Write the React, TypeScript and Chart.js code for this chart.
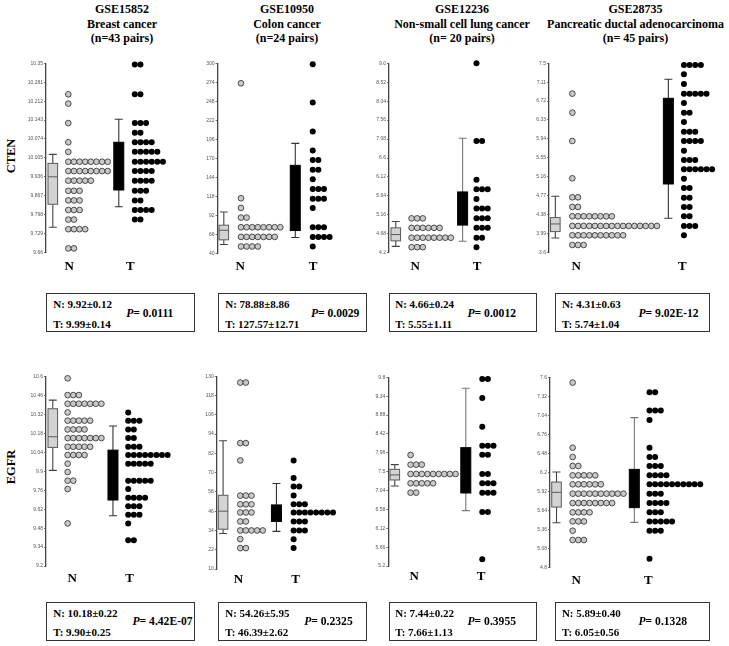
import React, { useEffect, useRef } from "react";
import { Chart, registerables } from "chart.js";

Chart.register(...registerables);

// ================= DATA =================
// Box stats are [lowerWhisker, Q1, median, Q3, upperWhisker]
// Dot rows: value + number of samples stacked at that value

// --- CTEN, GSE15852 Breast cancer ---
const ctenBreastTicks = ["10.35", "10.281", "10.212", "10.143", "10.074", "10.005", "9.936", "9.867", "9.798", "9.729", "9.66"];
const ctenBreastNValues = [10.237, 10.203, 10.132, 10.062, 10.027, 9.991, 9.957, 9.922, 9.885, 9.85, 9.815, 9.78, 9.745, 9.675];
const ctenBreastNCounts = [1, 1, 1, 1, 1, 8, 8, 5, 3, 3, 3, 2, 4, 2];
const ctenBreastTValues = [10.346, 10.237, 10.132, 10.097, 10.062, 10.027, 9.991, 9.957, 9.922, 9.885, 9.85, 9.815, 9.78];
const ctenBreastTCounts = [2, 2, 3, 2, 4, 5, 6, 4, 4, 3, 2, 4, 2];
const ctenBreastNBox = [9.752, 9.836, 9.936, 9.985, 10.018];
const ctenBreastTBox = [9.827, 9.888, 9.97, 10.062, 10.146];
const ctenBreastStats = ["N: 9.92\u00b10.12", "T: 9.99\u00b10.14", "0.0111"];

// --- CTEN, GSE10950 Colon cancer ---
const ctenColonTicks = ["300", "274", "248", "222", "196", "170", "144", "118", "92", "66", "40"];
const ctenColonNValues = [272.7, 115.5, 102.3, 89.1, 75.9, 62.7, 49.6];
const ctenColonNCounts = [1, 1, 1, 2, 8, 7, 4];
const ctenColonTValues = [298.6, 246.4, 206.8, 180.9, 167.7, 154.5, 141.4, 128.2, 115.0, 102.3, 75.9, 62.7, 49.6];
const ctenColonTCounts = [1, 1, 1, 1, 2, 2, 1, 3, 3, 1, 3, 4, 1];
const ctenColonNBox = [52.3, 58.7, 71.8, 78.7, 96.8];
const ctenColonTBox = [61.8, 71.4, 120, 160.5, 190.5];
const ctenColonStats = ["N: 78.88\u00b18.86", "T: 127.57\u00b112.71", "0.0029"];

// --- CTEN, GSE12236 Non-small cell lung cancer ---
const ctenLungTicks = ["9.0", "8.52", "8.04", "7.56", "7.08", "6.6", "6.12", "5.64", "5.16", "4.68", "4.2"];
const ctenLungNValues = [5.07, 4.83, 4.58, 4.34];
const ctenLungNCounts = [3, 6, 8, 3];
const ctenLungTValues = [9.0, 7.03, 6.05, 5.81, 5.56, 5.32, 5.07, 4.83, 4.58, 4.34];
const ctenLungTCounts = [1, 2, 1, 3, 1, 3, 3, 3, 2, 1];
const ctenLungNBox = [4.36, 4.5, 4.66, 4.83, 4.99];
const ctenLungTBox = [4.49, 4.9, 5.3, 5.74, 7.1];
const ctenLungStats = ["N: 4.66\u00b10.24", "T: 5.55\u00b11.11", "0.0012"];

// --- CTEN, GSE28735 Pancreatic ductal adenocarcinoma ---
const ctenPancTicks = ["7.5", "7.11", "6.72", "6.33", "5.94", "5.55", "5.16", "4.77", "4.38", "3.99", "3.6"];
const ctenPancNValues = [6.874, 6.482, 5.897, 5.127, 4.735, 4.536, 4.343, 4.144, 3.951, 3.751];
const ctenPancNCounts = [1, 1, 1, 1, 2, 2, 8, 16, 10, 3];
const ctenPancTValues = [7.466, 7.273, 7.074, 6.874, 6.682, 6.482, 6.29, 6.09, 5.897, 5.698, 5.505, 5.313, 5.12, 4.928, 4.728, 4.536, 4.343, 4.144, 3.951];
const ctenPancTCounts = [4, 1, 1, 5, 1, 2, 1, 3, 4, 1, 3, 6, 1, 2, 2, 2, 2, 3, 1];
const ctenPancNBox = [3.896, 4.027, 4.185, 4.316, 4.756];
const ctenPancTBox = [4.302, 5.01, 5.9, 6.778, 7.17];
const ctenPancStats = ["N: 4.31\u00b10.63", "T: 5.74\u00b11.04", "9.02E-12"];

// --- EGFR, GSE15852 Breast cancer ---
const egfrBreastTicks = ["10.6", "10.46", "10.32", "10.18", "10.04", "9.9", "9.76", "9.62", "9.48", "9.34", "9.2"];
const egfrBreastNValues = [10.588, 10.464, 10.4, 10.336, 10.275, 10.21, 10.146, 10.082, 10.021, 9.957, 9.895, 9.831, 9.769, 9.515];
const egfrBreastNCounts = [1, 3, 7, 1, 5, 4, 7, 5, 4, 1, 1, 2, 1, 1];
const egfrBreastTValues = [10.336, 10.275, 10.21, 10.146, 10.082, 10.021, 9.957, 9.831, 9.769, 9.705, 9.641, 9.579, 9.515, 9.39];
const egfrBreastTCounts = [1, 3, 2, 2, 3, 8, 5, 5, 1, 4, 3, 3, 1, 2];
const egfrBreastNBox = [9.907, 10.077, 10.156, 10.363, 10.427];
const egfrBreastTBox = [9.572, 9.688, 9.9, 10.057, 10.235];
const egfrBreastStats = ["N: 10.18\u00b10.22", "T: 9.90\u00b10.25", "4.42E-07"];

// --- EGFR, GSE10950 Colon cancer ---
const egfrColonTicks = ["130", "118", "106", "94", "82", "70", "58", "46", "34", "22", "10"];
const egfrColonNValues = [126.1, 88.4, 77.6, 55.7, 50.3, 45.2, 39.6, 34.0, 28.6, 23.0];
const egfrColonNCounts = [2, 2, 1, 3, 3, 3, 2, 5, 1, 2];
const egfrColonTValues = [77.6, 66.7, 61.3, 55.7, 50.3, 45.2, 39.6, 34.0, 28.6, 23.0];
const egfrColonTCounts = [1, 1, 2, 1, 3, 8, 3, 3, 1, 1];
const egfrColonNBox = [32.1, 34.8, 46, 55.9, 89.9];
const egfrColonTBox = [33.4, 39.6, 45, 49.9, 63.2];
const egfrColonStats = ["N: 54.26\u00b15.95", "T: 46.39\u00b12.62", "0.2325"];

// --- EGFR, GSE12236 Non-small cell lung cancer ---
const egfrLungTicks = ["9.8", "9.34", "8.88", "8.42", "7.96", "7.5", "7.04", "6.58", "6.12", "5.66", "5.2"];
const egfrLungNValues = [7.906, 7.671, 7.443, 7.216, 6.988];
const egfrLungNCounts = [1, 3, 9, 5, 2];
const egfrLungTValues = [9.76, 9.296, 8.597, 8.134, 7.915, 7.443, 7.216, 6.988, 6.517, 5.363];
const egfrLungTCounts = [2, 1, 1, 3, 2, 2, 3, 3, 2, 1];
const egfrLungNBox = [7.15, 7.297, 7.42, 7.557, 7.671];
const egfrLungTBox = [6.55, 6.98, 7.5, 8.085, 9.532];
const egfrLungStats = ["N: 7.44\u00b10.22", "T: 7.66\u00b11.13", "0.3955"];

// --- EGFR, GSE28735 Pancreatic ductal adenocarcinoma ---
const egfrPancTicks = ["7.6", "7.32", "7.04", "6.76", "6.48", "6.2", "5.92", "5.64", "5.36", "5.08", "4.8"];
const egfrPancNValues = [7.522, 6.565, 6.428, 6.296, 6.158, 6.026, 5.889, 5.751, 5.614, 5.481, 5.344, 5.207];
const egfrPancNCounts = [1, 1, 1, 2, 5, 6, 10, 8, 4, 3, 1, 3];
const egfrPancTValues = [7.379, 7.11, 6.972, 6.565, 6.428, 6.296, 6.158, 6.026, 5.889, 5.751, 5.614, 5.481, 5.344, 4.932];
const egfrPancTCounts = [2, 3, 1, 1, 2, 3, 4, 10, 3, 4, 3, 5, 3, 1];
const egfrPancNBox = [5.462, 5.692, 5.908, 6.06, 6.207];
const egfrPancTBox = [5.467, 5.683, 5.95, 6.246, 7.007];
const egfrPancStats = ["N: 5.89\u00b10.40", "T: 6.05\u00b10.56", "0.1328"];

const columnTitles = [
  ["GSE15852", "Breast cancer", "(n=43 pairs)"],
  ["GSE10950", "Colon cancer", "(n=24 pairs)"],
  ["GSE12236", "Non-small cell lung cancer", "(n= 20 pairs)"],
  ["GSE28735", "Pancreatic ductal adenocarcinoma", "(n= 45 pairs)"],
];
const geneNames = ["CTEN", "EGFR"];
const groupLabels = ["N", "T"];

// ================= LAYOUT (page pixels) =================
const SERIF = '"Liberation Serif", "Times New Roman", Times, serif';
const SANS = '"Liberation Sans", Arial, Helvetica, sans-serif';
const DOT_STEP = 5.8;

const panelLayouts = [
  { axisX: 46, yTop: 63.3, yBottom: 252.5, nBox: 53, nDot0: 69, tBox: 121, tDot0: 137.5, nLabel: 70, tLabel: 133, labelY: 265.7, right: 212, tWhisker: "#333" },
  { axisX: 217.5, yTop: 63.3, yBottom: 253.5, nBox: 224, nDot0: 241.7, tBox: 297.7, tDot0: 315.7, nLabel: 241, tLabel: 316, labelY: 265.7, right: 380, tWhisker: "#333" },
  { axisX: 389, yTop: 63.3, yBottom: 252.7, nBox: 396, nDot0: 412.3, tBox: 465, tDot0: 479.3, nLabel: 416, tLabel: 480, labelY: 265.7, right: 545, tWhisker: "#777" },
  { axisX: 549, yTop: 63.3, yBottom: 252.3, nBox: 555.5, nDot0: 573, tBox: 671.7, tDot0: 687.7, nLabel: 577, tLabel: 686, labelY: 265.7, right: 729, tWhisker: "#333" },
  { axisX: 46, yTop: 376.7, yBottom: 566, nBox: 53, nDot0: 68.3, tBox: 115, tDot0: 130.7, nLabel: 73, tLabel: 132, labelY: 577.5, right: 212, tWhisker: "#333" },
  { axisX: 216.7, yTop: 376.3, yBottom: 569, nBox: 223.3, nDot0: 241, tBox: 278.3, tDot0: 296, nLabel: 239, tLabel: 298, labelY: 579, right: 380, tWhisker: "#333" },
  { axisX: 388.3, yTop: 377.3, yBottom: 566, nBox: 395, nDot0: 411.3, tBox: 468.3, tDot0: 485.3, nLabel: 415, tLabel: 484, labelY: 576, right: 545, tWhisker: "#777" },
  { axisX: 550, yTop: 377.3, yBottom: 567.7, nBox: 556.7, nDot0: 573.3, tBox: 636.7, tDot0: 652.3, nLabel: 577, tLabel: 651, labelY: 580, right: 729, tWhisker: "#777" },
];

const statBoxes = [
  { left: 46, top: 293.3, width: 149, height: 38.5, textX: 8, pX: 81 },
  { left: 217.7, top: 293.3, width: 149.6, height: 38.5, textX: 8.3, pX: 94 },
  { left: 389.3, top: 293.3, width: 147.4, height: 38.5, textX: 6.7, pX: 79 },
  { left: 555, top: 293.3, width: 155, height: 38.5, textX: 7.7, pX: 84.3 },
  { left: 46, top: 601.7, width: 149, height: 39, textX: 8, pX: 87.3 },
  { left: 217.7, top: 601.7, width: 149.6, height: 39, textX: 8.3, pX: 87.3 },
  { left: 389.3, top: 601.7, width: 147.4, height: 39, textX: 6.7, pX: 79 },
  { left: 555, top: 601.7, width: 155, height: 39, textX: 7.7, pX: 84.3 },
];

const titleCenters = [122, 287, 462, 635.5];

const panelData = [
  { ticks: ctenBreastTicks, nV: ctenBreastNValues, nC: ctenBreastNCounts, tV: ctenBreastTValues, tC: ctenBreastTCounts, nBox: ctenBreastNBox, tBox: ctenBreastTBox, stats: ctenBreastStats },
  { ticks: ctenColonTicks, nV: ctenColonNValues, nC: ctenColonNCounts, tV: ctenColonTValues, tC: ctenColonTCounts, nBox: ctenColonNBox, tBox: ctenColonTBox, stats: ctenColonStats },
  { ticks: ctenLungTicks, nV: ctenLungNValues, nC: ctenLungNCounts, tV: ctenLungTValues, tC: ctenLungTCounts, nBox: ctenLungNBox, tBox: ctenLungTBox, stats: ctenLungStats },
  { ticks: ctenPancTicks, nV: ctenPancNValues, nC: ctenPancNCounts, tV: ctenPancTValues, tC: ctenPancTCounts, nBox: ctenPancNBox, tBox: ctenPancTBox, stats: ctenPancStats },
  { ticks: egfrBreastTicks, nV: egfrBreastNValues, nC: egfrBreastNCounts, tV: egfrBreastTValues, tC: egfrBreastTCounts, nBox: egfrBreastNBox, tBox: egfrBreastTBox, stats: egfrBreastStats },
  { ticks: egfrColonTicks, nV: egfrColonNValues, nC: egfrColonNCounts, tV: egfrColonTValues, tC: egfrColonTCounts, nBox: egfrColonNBox, tBox: egfrColonTBox, stats: egfrColonStats },
  { ticks: egfrLungTicks, nV: egfrLungNValues, nC: egfrLungNCounts, tV: egfrLungTValues, tC: egfrLungTCounts, nBox: egfrLungNBox, tBox: egfrLungTBox, stats: egfrLungStats },
  { ticks: egfrPancTicks, nV: egfrPancNValues, nC: egfrPancNCounts, tV: egfrPancTValues, tC: egfrPancTCounts, nBox: egfrPancNBox, tBox: egfrPancTBox, stats: egfrPancStats },
];

function stackRows(values: number[], counts: number[], x0: number) {
  const pts: { x: number; y: number }[] = [];
  values.forEach((v, i) => {
    for (let k = 0; k < counts[i]; k++) pts.push({ x: x0 + k * DOT_STEP, y: v });
  });
  return pts;
}

function drawBox(ctx: CanvasRenderingContext2D, xs: any, ys: any, xv: number, s: number[], style: any) {
  const cx = xs.getPixelForValue(xv);
  const [lo, q1, med, q3, hi] = s.map((v) => ys.getPixelForValue(v));
  const hw = style.halfWidth;
  const cap = 4;
  ctx.save();
  ctx.strokeStyle = style.whisker;
  ctx.lineWidth = 1.1;
  ctx.beginPath();
  ctx.moveTo(cx, q3);
  ctx.lineTo(cx, hi);
  ctx.moveTo(cx - cap, hi);
  ctx.lineTo(cx + cap, hi);
  ctx.moveTo(cx, q1);
  ctx.lineTo(cx, lo);
  ctx.moveTo(cx - cap, lo);
  ctx.lineTo(cx + cap, lo);
  ctx.stroke();
  ctx.fillStyle = style.fill;
  ctx.fillRect(cx - hw, q3, hw * 2, q1 - q3);
  ctx.strokeStyle = style.stroke;
  ctx.lineWidth = 1;
  ctx.strokeRect(cx - hw, q3, hw * 2, q1 - q3);
  if (style.median) {
    ctx.beginPath();
    ctx.moveTo(cx - hw, med);
    ctx.lineTo(cx + hw, med);
    ctx.stroke();
  }
  ctx.restore();
}

function Panel({ idx }: { idx: number }) {
  const ref = useRef<HTMLCanvasElement>(null);
  const lay = panelLayouts[idx];
  const d = panelData[idx];
  const canvasLeft = Math.round(lay.axisX - 44);
  const canvasTop = Math.round(lay.yTop - 13);
  const axisW = lay.axisX - canvasLeft;
  const padTop = lay.yTop - canvasTop;
  const width = lay.right - canvasLeft;
  const height = Math.round(lay.yBottom - canvasTop + 30);

  useEffect(() => {
    const tickVals = d.ticks.map((t) => parseFloat(t));
    const yMin = Math.min(...tickVals);
    const yMax = Math.max(...tickVals);
    const ax = lay.axisX;
    const xMax = width - axisW;
    const labelPad = lay.labelY - lay.yBottom - 6.8;

    const boxPlugin = {
      id: "boxes" + idx,
      afterDatasetsDraw(chart: any) {
        const { ctx, scales } = chart;
        drawBox(ctx, scales.x, scales.y, lay.nBox - ax, d.nBox, { halfWidth: 4.8, fill: "#d3d3d3", stroke: "#5a5a5a", whisker: "#444", median: true });
        drawBox(ctx, scales.x, scales.y, lay.tBox - ax, d.tBox, { halfWidth: 5, fill: "#000", stroke: "#000", whisker: lay.tWhisker, median: false });
      },
    };

    const chart = new Chart(ref.current as HTMLCanvasElement, {
      type: "scatter",
      data: {
        datasets: [
          {
            data: stackRows(d.nV, d.nC, lay.nDot0 - ax),
            pointRadius: 2.85,
            pointBackgroundColor: "#c9c9c9",
            pointBorderColor: "#3c3c3c",
            pointBorderWidth: 0.9,
            clip: false,
          } as any,
          {
            data: stackRows(d.tV, d.tC, lay.tDot0 - ax),
            pointRadius: 3,
            pointBackgroundColor: "#000",
            pointBorderColor: "#000",
            pointBorderWidth: 0,
            clip: false,
          } as any,
        ],
      },
      options: {
        responsive: false,
        animation: false,
        devicePixelRatio: 1,
        events: [],
        layout: { padding: { top: padTop, left: 0, right: 0, bottom: 0 } },
        plugins: { legend: { display: false }, tooltip: { enabled: false } },
        scales: {
          x: {
            type: "linear",
            min: 0,
            max: xMax,
            grid: { display: false, drawTicks: false },
            border: { display: false },
            afterBuildTicks: (s: any) => {
              s.ticks = [{ value: lay.nLabel - ax }, { value: lay.tLabel - ax }];
            },
            afterFit: (s: any) => {
              s.height = height - (lay.yBottom - canvasTop);
            },
            ticks: {
              autoSkip: false,
              maxRotation: 0,
              minRotation: 0,
              padding: labelPad,
              color: "#000",
              font: { family: SERIF, size: 13, weight: "bold" },
              callback: (_v: any, i: number) => groupLabels[i],
            },
          },
          y: {
            type: "linear",
            min: yMin,
            max: yMax,
            grid: { drawOnChartArea: false, drawTicks: true, tickLength: 2, color: "#555", lineWidth: 0.8 },
            border: { display: true, color: "#444", width: 1.3 },
            afterBuildTicks: (s: any) => {
              s.ticks = tickVals.map((v) => ({ value: v }));
            },
            afterFit: (s: any) => {
              s.width = axisW;
            },
            ticks: {
              autoSkip: false,
              padding: 1,
              color: "#555",
              font: { family: SANS, size: 5 },
              callback: (v: any) => {
                const i = tickVals.findIndex((t) => Math.abs(t - v) < 1e-6);
                return i >= 0 ? d.ticks[i] : "";
              },
            },
          },
        } as any,
      },
      plugins: [boxPlugin],
    });
    return () => chart.destroy();
  }, [idx]);

  return (
    <canvas
      ref={ref}
      width={width}
      height={height}
      style={{ position: "absolute", left: canvasLeft, top: canvasTop, width, height }}
    />
  );
}

function StatBox({ idx }: { idx: number }) {
  const b = statBoxes[idx];
  const s = panelData[idx].stats;
  const txt: React.CSSProperties = {
    position: "absolute",
    fontFamily: SERIF,
    fontWeight: "bold",
    fontSize: 11,
    lineHeight: "12px",
    whiteSpace: "nowrap",
    color: "#000",
  };
  return (
    <div
      style={{
        position: "absolute",
        left: b.left,
        top: b.top,
        width: b.width,
        height: b.height,
        border: "1.8px solid #333",
        boxSizing: "border-box",
        background: "#fff",
      }}
    >
      <div style={{ ...txt, left: b.textX - 1.8, top: 4 }}>{s[0]}</div>
      <div style={{ ...txt, left: b.textX - 1.8, top: 23.5 }}>{s[1]}</div>
      <div style={{ ...txt, left: b.pX - 1.8, top: 13.5, fontSize: 11.6 }}>
        <i>P</i>= {s[2]}
      </div>
    </div>
  );
}

export default function App() {
  return (
    <div
      style={{
        position: "absolute",
        left: 0,
        top: 0,
        width: 729,
        height: 646,
        background: "#fff",
        overflow: "hidden",
      }}
    >
      {columnTitles.map((lines, i) => (
        <div
          key={"t" + i}
          style={{
            position: "absolute",
            left: titleCenters[i] - 150,
            top: 2,
            width: 300,
            textAlign: "center",
            fontFamily: SERIF,
            fontWeight: "bold",
            fontSize: 12,
            lineHeight: "14.5px",
            color: "#000",
          }}
        >
          {lines.map((l, j) => (
            <div key={j}>{l}</div>
          ))}
        </div>
      ))}
      {geneNames.map((g, i) => (
        <div
          key={g}
          style={{
            position: "absolute",
            left: 11,
            top: i === 0 ? 156 : 467,
            transform: "translate(-50%, -50%) rotate(-90deg)",
            fontFamily: SERIF,
            fontWeight: "bold",
            fontSize: 12.5,
            whiteSpace: "nowrap",
            color: "#000",
          }}
        >
          {g}
        </div>
      ))}
      {panelLayouts.map((_, i) => (
        <Panel key={"p" + i} idx={i} />
      ))}
      {statBoxes.map((_, i) => (
        <StatBox key={"s" + i} idx={i} />
      ))}
    </div>
  );
}
